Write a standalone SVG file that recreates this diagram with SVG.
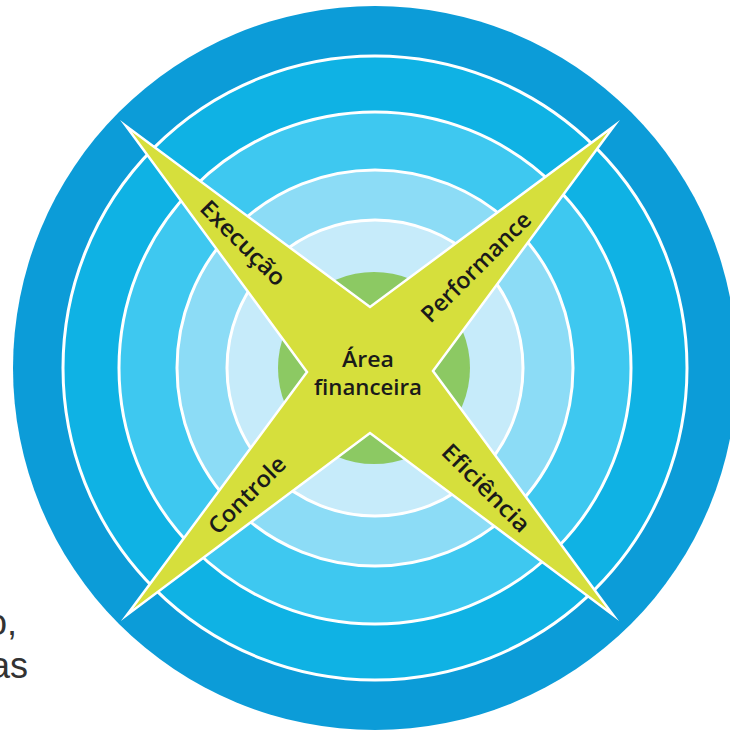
<svg xmlns="http://www.w3.org/2000/svg" width="730" height="734" viewBox="0 0 730 734">
  <style>
    .ring { stroke: #ffffff; stroke-width: 3; }
    .lbl { font-family: "Open Sans", "Noto Sans", sans-serif; font-size: 22px; font-weight: 600; fill: #1a1a1a; text-anchor: middle; }
    .arm { font-size: 23px; }
    .side { font-family: "Liberation Sans", Arial, sans-serif; font-size: 36px; fill: #333333; text-anchor: end; }
  </style>
  <rect x="0" y="0" width="730" height="734" fill="#ffffff"/>
  <g id="side-text">
    <text class="side" x="17" y="635">o,</text>
    <text class="side" x="28" y="678">as</text>
  </g>
  <g id="rings">
    <circle cx="375" cy="368" r="362" fill="#0c9cd8"/>
    <circle class="ring" cx="375" cy="368" r="312" fill="#0fb2e4"/>
    <circle class="ring" cx="375" cy="368" r="256" fill="#3ec8f0"/>
    <circle class="ring" cx="375" cy="368" r="198" fill="#8cdcf6"/>
    <circle class="ring" cx="375" cy="368" r="148" fill="#c6ebfa"/>
    <circle cx="374" cy="368" r="96" fill="#8cc963"/>
  </g>
  <g id="star">
    <polygon points="126,126 370,307 614,126 433,371 613,615 370,433 127,615 307,372" fill="#d6df3c" stroke="#ffffff" stroke-width="2.5" stroke-linejoin="miter" stroke-miterlimit="20"/>
  </g>
  <g id="center">
    <text class="lbl" x="368" y="367" textLength="52" lengthAdjust="spacingAndGlyphs">Área</text>
    <text class="lbl" x="368" y="395" textLength="108" lengthAdjust="spacingAndGlyphs">financeira</text>
  </g>
  <g id="execucao">
    <text class="lbl arm" transform="translate(243,243) rotate(45)" x="0" y="8" textLength="110" lengthAdjust="spacingAndGlyphs">Execução</text>
  </g>
  <g id="performance">
    <text class="lbl arm" transform="translate(476,267) rotate(-45)" x="0" y="8" textLength="145" lengthAdjust="spacingAndGlyphs">Performance</text>
  </g>
  <g id="controle">
    <text class="lbl arm" transform="translate(247,495) rotate(-45)" x="0" y="8" textLength="99" lengthAdjust="spacingAndGlyphs">Controle</text>
  </g>
  <g id="eficiencia">
    <text class="lbl arm" transform="translate(486,488) rotate(45)" x="0" y="8" textLength="114" lengthAdjust="spacingAndGlyphs">Eficiência</text>
  </g>
  <g id="connectors"/>
</svg>
